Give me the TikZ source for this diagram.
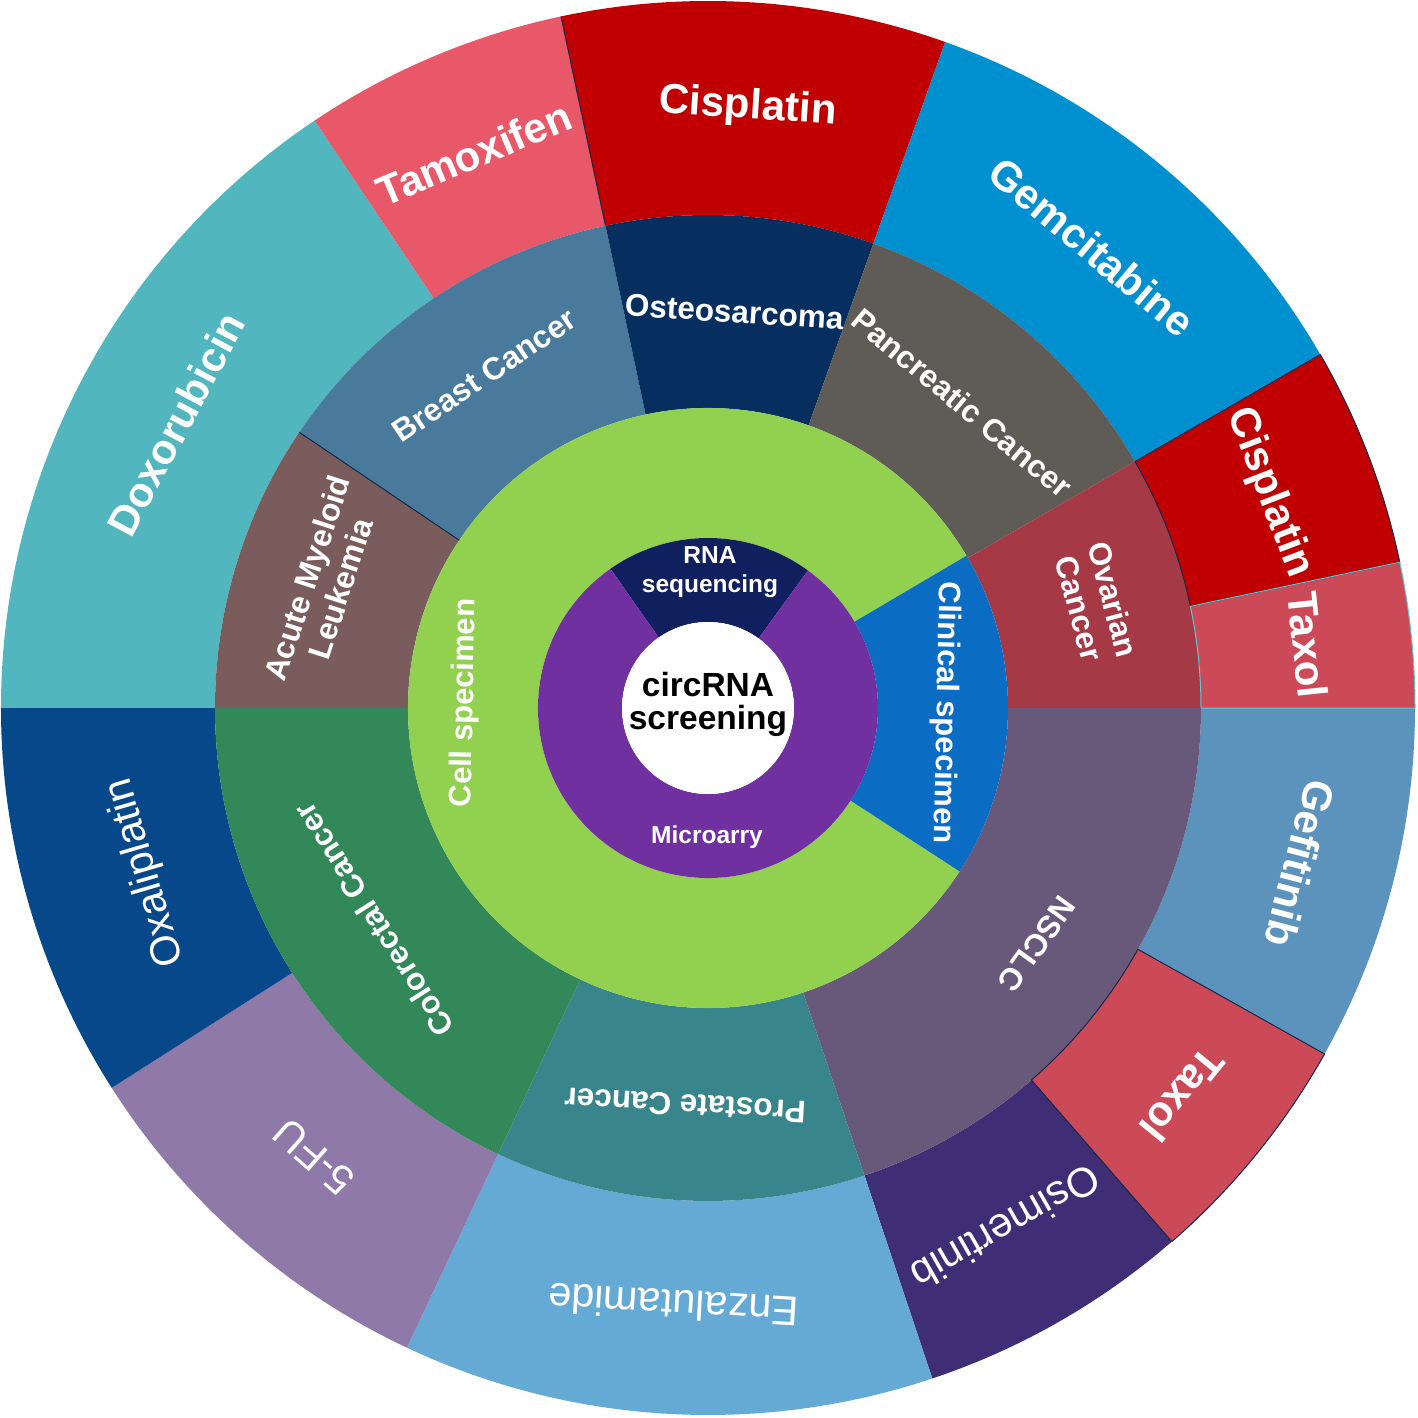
\documentclass[tikz,border=0pt]{standalone}
\usepackage{fontspec}
\setmainfont{Liberation Sans}
\definecolor{cPurple}{HTML}{7030A0}
\definecolor{cRNA}{HTML}{10205E}
\definecolor{cGreen}{HTML}{92D050}
\definecolor{cClin}{HTML}{0A6CC2}
\definecolor{cBreast}{HTML}{4A7A9B}
\definecolor{cOsteo}{HTML}{062F60}
\definecolor{cPanc}{HTML}{5F5B57}
\definecolor{cOvar}{HTML}{A63946}
\definecolor{cNSCLC}{HTML}{68597B}
\definecolor{cProst}{HTML}{38858B}
\definecolor{cColo}{HTML}{33885A}
\definecolor{cAML}{HTML}{7B5C5C}
\definecolor{cTamo}{HTML}{E85868}
\definecolor{cCis}{HTML}{C00000}
\definecolor{cGem}{HTML}{008FCF}
\definecolor{cTaxol}{HTML}{CC4A58}
\definecolor{cGef}{HTML}{5C93BC}
\definecolor{cOsim}{HTML}{3F2E75}
\definecolor{cEnza}{HTML}{65AAD4}
\definecolor{cFU}{HTML}{8F79A8}
\definecolor{cOxa}{HTML}{07488A}
\definecolor{cDoxo}{HTML}{52B6BE}
\definecolor{cEdge}{HTML}{14284A}
\definecolor{cCyan}{HTML}{5FC8D0}
\newcommand\seg[5]{\fill[#1] (#2:#4pt) arc[start angle=#2,end angle=#3,radius=#4pt] -- (#3:#5pt) arc[start angle=#3,end angle=#2,radius=#5pt] -- cycle;}
\newcommand\segline[5]{\draw[#1] (#2:#4pt) arc[start angle=#2,end angle=#3,radius=#4pt] -- (#3:#5pt) arc[start angle=#3,end angle=#2,radius=#5pt] -- cycle;}
\newcommand\lbl[5]{\node[#1, rotate=#3-90] (#2) at (#3:#4pt) {#5};}
\begin{document}
\begin{tikzpicture}[x=1pt,y=1pt,
  base/.style={text=white, align=center, inner sep=0pt},
  drugb/.style={base, font=\fontsize{42}{46}\selectfont\bfseries},
  drugr/.style={base, font=\fontsize{41.5}{45}\selectfont},
  canc/.style={base, font=\fontsize{31.5}{35}\selectfont\bfseries},
  spec/.style={base, font=\fontsize{31}{34}\selectfont\bfseries},
  meth/.style={base, font=\fontsize{24.5}{29.5}\selectfont\bfseries},
  edge/.style={line width=1pt, line join=round}]
\useasboundingbox (-708,-709) rectangle (710,708);
% drug ring
\seg{cDoxo}{123.8}{180}{707}{493}
\seg{cTamo}{102}{123.8}{707}{493}
\seg{cCis}{70.4}{102}{707}{493}
\seg{cGem}{30}{70.4}{707}{493}
\seg{cCis}{11.9}{30}{707}{493}
\seg{cTaxol}{0}{11.9}{707}{493}
\seg{cGef}{-29.3}{0}{707}{493}
\seg{cTaxol}{-49}{-29.3}{707}{493}
\seg{cOsim}{-71.5}{-49}{707}{493}
\seg{cEnza}{-115.2}{-71.5}{707}{493}
\seg{cFU}{-147.5}{-115.2}{707}{493}
\seg{cOxa}{-180}{-147.5}{707}{493}
% cancer ring
\seg{cBreast}{102}{146}{493}{300}
\seg{cOsteo}{70.4}{102}{493}{300}
\seg{cPanc}{30}{70.4}{493}{300}
\seg{cOvar}{0}{30}{493}{300}
\seg{cNSCLC}{-71.5}{0}{493}{300}
\seg{cProst}{-115.2}{-71.5}{493}{300}
\seg{cColo}{-180}{-115.2}{493}{300}
\seg{cAML}{146}{180}{493}{300}
% specimen ring
\seg{cGreen}{30.5}{327}{300}{170}
\seg{cClin}{-33}{30.5}{300}{170}
% method ring
\seg{cRNA}{54}{125}{170}{86}
\seg{cPurple}{125}{414}{170}{86}
\fill[white] (0,0) circle[radius=86pt];
% thin segment outlines seen in the reference
\segline{edge, cEdge}{11.9}{30}{707}{493}
\segline{edge, cEdge}{-49}{-29.3}{707}{493}
\segline{edge, cCyan}{0}{11.9}{707}{493}
\draw[edge, cEdge] (102:493pt) -- (102:707pt);
\draw[edge, cEdge] (146:300pt) -- (146:493pt);
% drug labels
\lbl{drugb}{cis1}{86.2}{602}{Cisplatin}
\lbl{drugb}{tamo}{112.9}{602}{Tamoxifen}
\lbl{drugb}{gem}{50.2}{600}{Gemcitabine}
\lbl{drugb}{cis2}{21}{601}{Cisplatin}
\lbl{drugb}{tax1}{6}{603}{Taxol}
\lbl{drugb}{gef}{-14.7}{612}{Gefitinib}
\lbl{drugb}{tax2}{-39.2}{612}{Taxol}
\lbl{drugr}{osim}{-60.2}{599}{Osimertinib}
\lbl{drugr}{enza}{-93.3}{598}{Enzalutamide}
\lbl{drugr}{fu}{-131.3}{597}{5-FU}
\lbl{drugr}{oxa}{-163.7}{586}{Oxaliplatin}
\lbl{drugb}{doxo}{151.9}{603}{Doxorubicin}
% cancer labels
\lbl{canc}{breast}{123.9}{401}{Breast Cancer}
\lbl{canc}{osteo}{86.2}{397}{Osteosarcoma}
\lbl{canc}{panc}{50.2}{397}{Pancreatic Cancer}
\lbl{canc}{ovar}{15}{402}{Ovarian\\Cancer}
\lbl{canc}{nsclc}{-35.7}{405}{NSCLC}
\lbl{canc}{prost}{-93.3}{398}{Prostate Cancer}
\lbl{canc}{colo}{-147.6}{396}{Colorectal Cancer}
\lbl{canc}{aml}{162}{404}{Acute Myeloid\\Leukemia}
% specimen labels
\lbl{spec}{cell}{178.8}{243}{Cell specimen}
\lbl{spec}{clin}{-1.2}{237}{Clinical specimen}
% method labels
\node[meth] (rna) at (2,136) {RNA\\sequencing};
\node[meth] (micro) at (-1,-129) {Microarry};
\node[align=center, inner sep=0pt, font=\fontsize{33.5}{33}\selectfont\bfseries] (center) at (0,4) {circRNA\\screening};
\end{tikzpicture}
\end{document}
